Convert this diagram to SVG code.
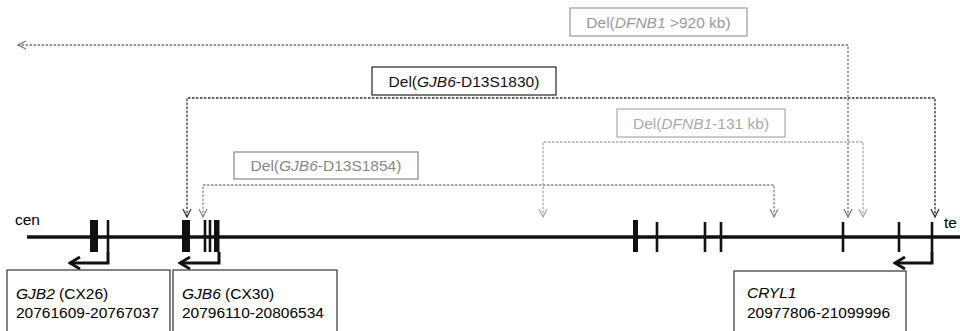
<svg xmlns="http://www.w3.org/2000/svg" width="960" height="331" viewBox="0 0 960 331">
<style>
text{font-family:"Liberation Sans",Arial,sans-serif;font-size:15.5px}
.it{font-style:italic}
.lbl{fill:#fff;stroke-width:1.2}
.gray{fill:#9a9a9a}
.dash{fill:none;stroke-dasharray:2.5,1.5;stroke-width:1.3}
.bar{stroke:#111;stroke-width:2.6}
.thick{fill:#111}
.garr{fill:none;stroke:#111;stroke-width:3}
.gbox{fill:#fff;stroke:#333;stroke-width:1.2}
</style>
<defs>
<marker id="aK" markerUnits="userSpaceOnUse" viewBox="0 0 10 10" refX="9" refY="5" markerWidth="10" markerHeight="10" orient="auto-start-reverse"><path d="M1,1 L9,5 L1,9" fill="none" stroke="#333" stroke-width="1.3"/></marker>
<marker id="aM" markerUnits="userSpaceOnUse" viewBox="0 0 10 10" refX="9" refY="5" markerWidth="10" markerHeight="10" orient="auto-start-reverse"><path d="M1,1 L9,5 L1,9" fill="none" stroke="#777" stroke-width="1.3"/></marker>
<marker id="aG" markerUnits="userSpaceOnUse" viewBox="0 0 10 10" refX="9" refY="5" markerWidth="10" markerHeight="10" orient="auto-start-reverse"><path d="M1,1 L9,5 L1,9" fill="none" stroke="#8a8a8a" stroke-width="1.3"/></marker>
<marker id="aL" markerUnits="userSpaceOnUse" viewBox="0 0 10 10" refX="9" refY="5" markerWidth="10" markerHeight="10" orient="auto-start-reverse"><path d="M1,1 L9,5 L1,9" fill="none" stroke="#aaa" stroke-width="1.3"/></marker>
<marker id="aB" markerUnits="userSpaceOnUse" viewBox="0 0 14 14" refX="12" refY="7" markerWidth="14" markerHeight="14" orient="auto"><path d="M2,1 L12,7 L2,13" fill="none" stroke="#111" stroke-width="2.8"/></marker>
</defs>
<rect width="960" height="331" fill="#fff"/>

<g id="chromosome">
<line x1="27" y1="237" x2="960" y2="237" stroke="#111" stroke-width="3.5"/>
<text x="15" y="225">cen</text>
<text x="944" y="228">te</text>
</g>

<g id="exons">
<rect class="thick" x="90" y="220" width="8" height="32"/>
<line class="bar" x1="108" y1="220" x2="108" y2="252"/>
<rect class="thick" x="182" y="220" width="8" height="32"/>
<line class="bar" x1="205" y1="220" x2="205" y2="252"/>
<line class="bar" x1="210" y1="220" x2="210" y2="252"/>
<rect class="thick" x="214" y="220" width="5.5" height="32"/>
<rect class="thick" x="633" y="220" width="5" height="32"/>
<line class="bar" x1="657" y1="222" x2="657" y2="252"/>
<line class="bar" x1="705" y1="222" x2="705" y2="252"/>
<line class="bar" x1="721" y1="222" x2="721" y2="252"/>
<line class="bar" x1="843" y1="222" x2="843" y2="252"/>
<line class="bar" x1="899" y1="222" x2="899" y2="252"/>
<line class="bar" x1="932" y1="222" x2="932" y2="252"/>
</g>

<g id="gjb2">
<path class="garr" d="M108,252 V263 H70" marker-end="url(#aB)"/>
<rect class="gbox" x="7" y="270" width="163" height="70"/>
<text x="16" y="299"><tspan class="it">GJB2</tspan> (CX26)</text>
<text x="16" y="318">20761609-20767037</text>
</g>

<g id="gjb6">
<path class="garr" d="M219,252 V263 H180" marker-end="url(#aB)"/>
<rect class="gbox" x="173" y="270" width="164" height="70"/>
<text x="182" y="299"><tspan class="it">GJB6</tspan> (CX30)</text>
<text x="182" y="318">20796110-20806534</text>
</g>

<g id="cryl1">
<path class="garr" d="M932,252 V263 H895" marker-end="url(#aB)"/>
<rect class="gbox" x="734" y="271" width="172" height="70"/>
<text x="747" y="298" class="it">CRYL1</text>
<text x="747" y="318">20977806-21099996</text>
</g>

<g id="connectors">
<path class="dash" stroke="#777" d="M848,217 V45 H18" marker-start="url(#aM)" marker-end="url(#aM)"/>
<path class="dash" stroke="#333" d="M187,217 V98 H935 V217" marker-start="url(#aK)" marker-end="url(#aK)"/>
<path class="dash" stroke="#aaa" d="M543,217 V142 H863 V217" marker-start="url(#aL)" marker-end="url(#aL)"/>
<path class="dash" stroke="#8a8a8a" d="M203,217 V185 H774 V217" marker-start="url(#aG)" marker-end="url(#aG)"/>
</g>

<g id="del-920">
<rect class="lbl" stroke="#999" x="570" y="8" width="177" height="28"/>
<text class="gray" x="658.5" y="28" text-anchor="middle">Del(<tspan class="it">DFNB1</tspan> &gt;920 kb)</text>
</g>
<g id="del-1830">
<rect class="lbl" stroke="#222" x="372" y="67" width="184" height="28"/>
<text x="464" y="87" text-anchor="middle" fill="#111">Del(<tspan class="it">GJB6</tspan>-D13S1830)</text>
</g>
<g id="del-131">
<rect class="lbl" stroke="#aaa" x="617" y="109" width="168" height="28"/>
<text x="701" y="129" text-anchor="middle" fill="#aaa">Del(<tspan class="it">DFNB1</tspan>-131 kb)</text>
</g>
<g id="del-1854">
<rect class="lbl" stroke="#888" x="234" y="152" width="184" height="27"/>
<text x="326" y="171" text-anchor="middle" fill="#888">Del(<tspan class="it">GJB6</tspan>-D13S1854)</text>
</g>
</svg>
